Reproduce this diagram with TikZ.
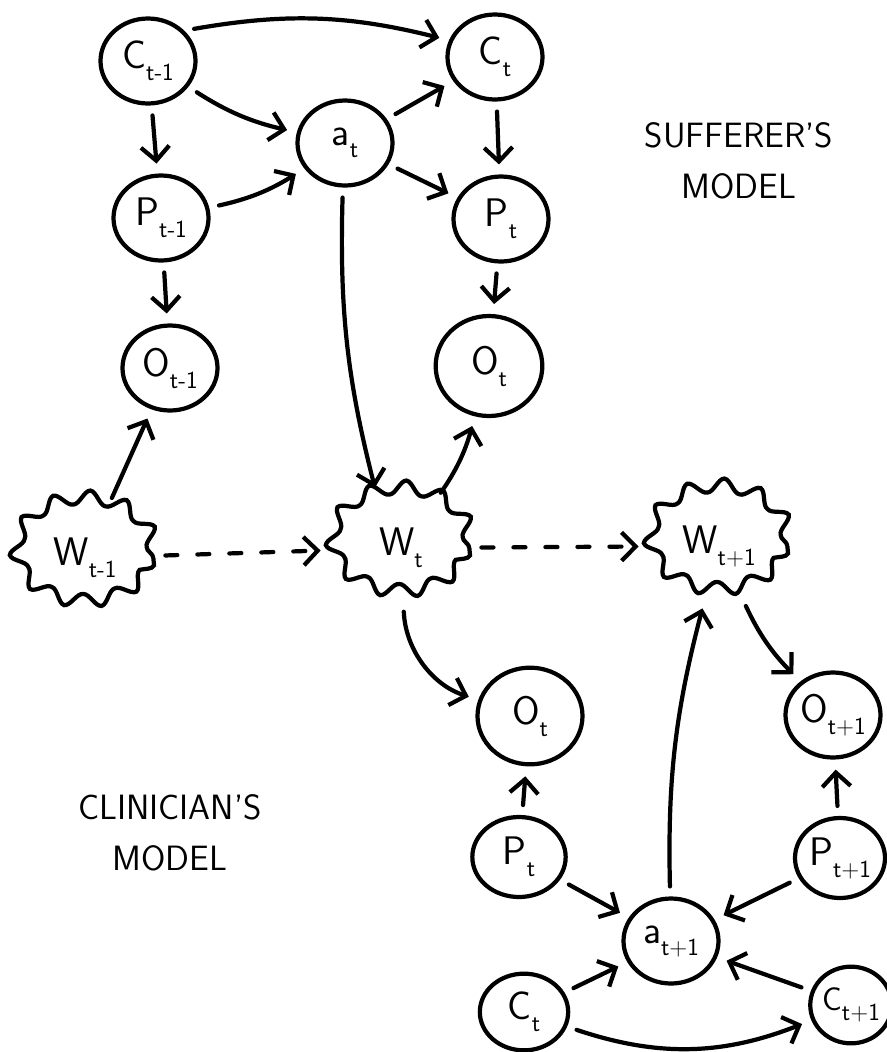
\documentclass[tikz,border=0pt]{standalone}
\usetikzlibrary{arrows.meta,shapes.geometric,decorations.pathmorphing}

\tikzset{
    var/.style = {draw, ellipse, line width=3.6pt, minimum width=2.85cm, minimum height=2.55cm,
        inner sep=0pt, font=\sffamily\fontsize{34}{40}\selectfont},
    world/.style = {var, minimum width=4.1cm, minimum height=3.1cm,
        decorate, decoration={snake, segment length=1.05cm, amplitude=0.2cm}},
    link/.style = {-{Straight Barb[length=0.42cm, width=0.85cm]}, line width=3.6pt, line cap=round,
        shorten <=0.3cm, shorten >=0.3cm},
    guess/.style = {link, dash pattern=on 0.36cm off 0.6cm},
    heading/.style = {align=center, font=\sffamily\fontsize{30}{44}\selectfont}
}
% variable name with a big lowered index
\newcommand{\lbl}[2]{#1\raisebox{-0.3em}{\fontsize{21}{21}\selectfont #2}}

\begin{document}
\begin{tikzpicture}[x=0.03cm, y=-0.03cm]
    \useasboundingbox (0,0) rectangle (887,1052);

    % sufferer's model
    \node[var] (cA) at (148,61) {\lbl{C}{t-1}};
    \node[var] (aT) at (345,143) {\lbl{a}{t}};
    \node[var] (pA) at (161,218) {\lbl{P}{t-1}};
    \node[var] (oA) at (170,368) {\lbl{O}{t-1}};
    \node[var] (cT) at (495,57) {\lbl{C}{t}};
    \node[var] (pT) at (501,219) {\lbl{P}{t}};
    \node[var, minimum width=3.2cm, minimum height=3cm] (oT) at (489,366) {\lbl{O}{t}};
    \node[heading] (sufferer) at (739,161) {SUFFERER'S\\MODEL};

    % hidden world states
    \node[world] (wA) at (85,558) {\lbl{W}{t-1}};
    \node[world] (wT) at (401,548) {\lbl{W}{t}};
    \node[world] (wB) at (719,546) {\lbl{W}{t+1}};

    % clinician's model
    \node[var, minimum width=3.15cm, minimum height=2.9cm] (oT2) at (530,716) {\lbl{O}{t}};
    \node[var] (oB) at (833,715) {\lbl{O}{t+1}};
    \node[var, minimum width=2.8cm, minimum height=2.4cm] (pT2) at (519,857) {\lbl{P}{t}};
    \node[var, minimum width=2.7cm, minimum height=2.4cm] (pB) at (840,858) {\lbl{P}{t+1}};
    \node[var] (aB) at (671,941) {\lbl{a}{t+1}};
    \node[var, minimum width=2.65cm, minimum height=2.3cm] (cT2) at (524,1012) {\lbl{C}{t}};
    \node[var, minimum width=2.3cm, minimum height=2.3cm, font=\sffamily\fontsize{28}{32}\selectfont]
        (cB) at (851,1005) {\lbl{C}{t+1}};
    \node[heading] (clinician) at (170,833) {CLINICIAN'S\\MODEL};

    \draw[link] (cA.40) to[bend left=12] (cT.160);
    \draw[link] (cA) to[bend right=10] (aT);
    \draw[link] (pA) to[bend right=10] (aT);
    \draw[link] (aT) -- (cT);
    \draw[link] (aT) -- (pT);
    \draw[link] (cA) -- (pA);
    \draw[link] (pA) -- (oA);
    \draw[link] (cT) -- (pT);
    \draw[link] (pT) -- (oT);
    \draw[link] (aT) to[bend right=8] (wT.115);
    \draw[link] (wA) -- (oA);
    \draw[link] (wT) to[bend right=10] (oT);
    \draw[guess] (wA) -- (wT);
    \draw[guess] (wT) -- (wB);

    \draw[link] (wT) to[bend right=35] (oT2);
    \draw[link] (wB) to[bend right=10] (oB);
    \draw[link] (aB) to[bend left=8] (wB);
    \draw[link] (pT2) -- (oT2);
    \draw[link] (pB) -- (oB);
    \draw[link] (pT2) -- (aB);
    \draw[link] (pB) -- (aB);
    \draw[link] (cT2) -- (aB);
    \draw[link] (cB) -- (aB);
    \draw[link] (cT2) to[bend right=20] (cB);
\end{tikzpicture}
\end{document}
